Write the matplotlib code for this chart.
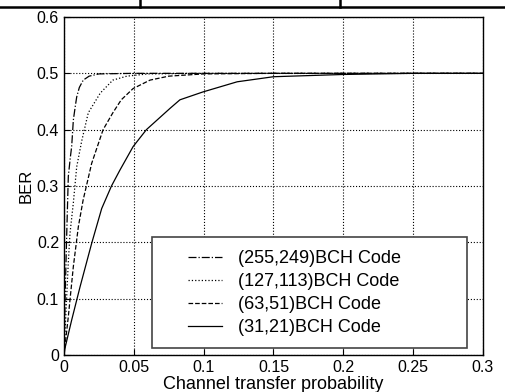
import matplotlib
matplotlib.use('Agg')
import matplotlib.pyplot as plt
from matplotlib.lines import Line2D
from matplotlib.patches import Rectangle

# values
p_255 = [0, 0.0008, 0.0018, 0.0031, 0.0045, 0.0055, 0.0067, 0.0080, 0.0091, 0.011, 0.0138, 0.018, 0.025, 0.05, 0.1, 0.2, 0.3]
ber_255 = [0, 0.1, 0.2, 0.317, 0.35, 0.37, 0.417, 0.44, 0.458, 0.475, 0.488, 0.495, 0.499, 0.5, 0.5, 0.5, 0.5]

p_127 = [0, 0.0015, 0.0030, 0.0043, 0.0067, 0.0091, 0.0127, 0.0174, 0.026, 0.035, 0.045, 0.06, 0.1, 0.2, 0.3]
ber_127 = [0, 0.08, 0.16, 0.216, 0.27, 0.334, 0.38, 0.43, 0.465, 0.488, 0.495, 0.499, 0.5, 0.5, 0.5]

p_63 = [0, 0.0031, 0.0067, 0.0103, 0.0137, 0.0198, 0.028, 0.035, 0.041, 0.0495, 0.0616, 0.075, 0.1, 0.15, 0.2, 0.3]
ber_63 = [0, 0.068, 0.157, 0.228, 0.275, 0.34, 0.40, 0.43, 0.453, 0.473, 0.488, 0.495, 0.499, 0.5, 0.5, 0.5]

p_31 = [0, 0.0007, 0.0055, 0.0115, 0.0198, 0.027, 0.034, 0.040, 0.0495, 0.059, 0.076, 0.083, 0.0995, 0.124, 0.150, 0.2, 0.25, 0.3]
ber_31 = [0, 0.012, 0.062, 0.121, 0.198, 0.26, 0.30, 0.328, 0.37, 0.40, 0.438, 0.453, 0.467, 0.485, 0.494, 0.498, 0.5, 0.5]

labels = ['(255,249)BCH Code', '(127,113)BCH Code', '(63,51)BCH Code', '(31,21)BCH Code']
xticks = [0, 0.05, 0.1, 0.15, 0.2, 0.25, 0.3]
xticklabels = ['0', '0.05', '0.1', '0.15', '0.2', '0.25', '0.3']
yticks = [0, 0.1, 0.2, 0.3, 0.4, 0.5, 0.6]
yticklabels = ['0', '0.1', '0.2', '0.3', '0.4', '0.5', '0.6']

plt.rcParams['font.family'] = ['Liberation Sans', 'DejaVu Sans']

fig = plt.figure(figsize=(5.05, 3.92), dpi=100)
ax = fig.add_axes([0.1267, 0.0944, 0.8297, 0.8622])

ax.plot(p_255, ber_255, color='black', lw=0.9, linestyle='-.', label=labels[0])
ax.plot(p_127, ber_127, color='black', lw=0.9, linestyle=':', label=labels[1])
ax.plot(p_63, ber_63, color='black', lw=0.9, linestyle='--', label=labels[2])
ax.plot(p_31, ber_31, color='black', lw=0.9, linestyle='-', label=labels[3])

ax.set_xlim(0, 0.3)
ax.set_ylim(0, 0.6)
ax.set_xticks(xticks)
ax.set_xticklabels(xticklabels)
ax.set_yticks(yticks)
ax.set_yticklabels(yticklabels)
ax.tick_params(direction='in', labelsize=11.5, length=4, width=0.8)
ax.grid(True, color='black', linestyle=':', linewidth=0.8)
for s in ax.spines.values():
    s.set_linewidth(1.0)

ax.set_xlabel('Channel transfer probability', fontsize=13, labelpad=1)
ax.set_ylabel('BER', fontsize=12, labelpad=2)

# legend frame drawn separately (wide box, entries offset to the right)
box = Rectangle((0.21, 0.02), 0.752, 0.329, transform=ax.transAxes,
                facecolor='white', edgecolor='#444444', lw=1.2, zorder=4)
ax.add_patch(box)
leg = ax.legend(loc='upper left', bbox_to_anchor=(0.296, 0.31), fontsize=13,
                frameon=False, handlelength=1.9, handletextpad=0.85,
                borderpad=0, labelspacing=0.33, borderaxespad=0)
leg.set_zorder(5)

# table rule from the page above the figure
fig.add_artist(Line2D([0, 1], [0.982, 0.982], color='black', lw=1.8, transform=fig.transFigure))
for xv in [140 / 505, 340 / 505]:
    fig.add_artist(Line2D([xv, xv], [0.982, 1.0], color='black', lw=1.8, transform=fig.transFigure))

fig.savefig('out.png', dpi=100)
